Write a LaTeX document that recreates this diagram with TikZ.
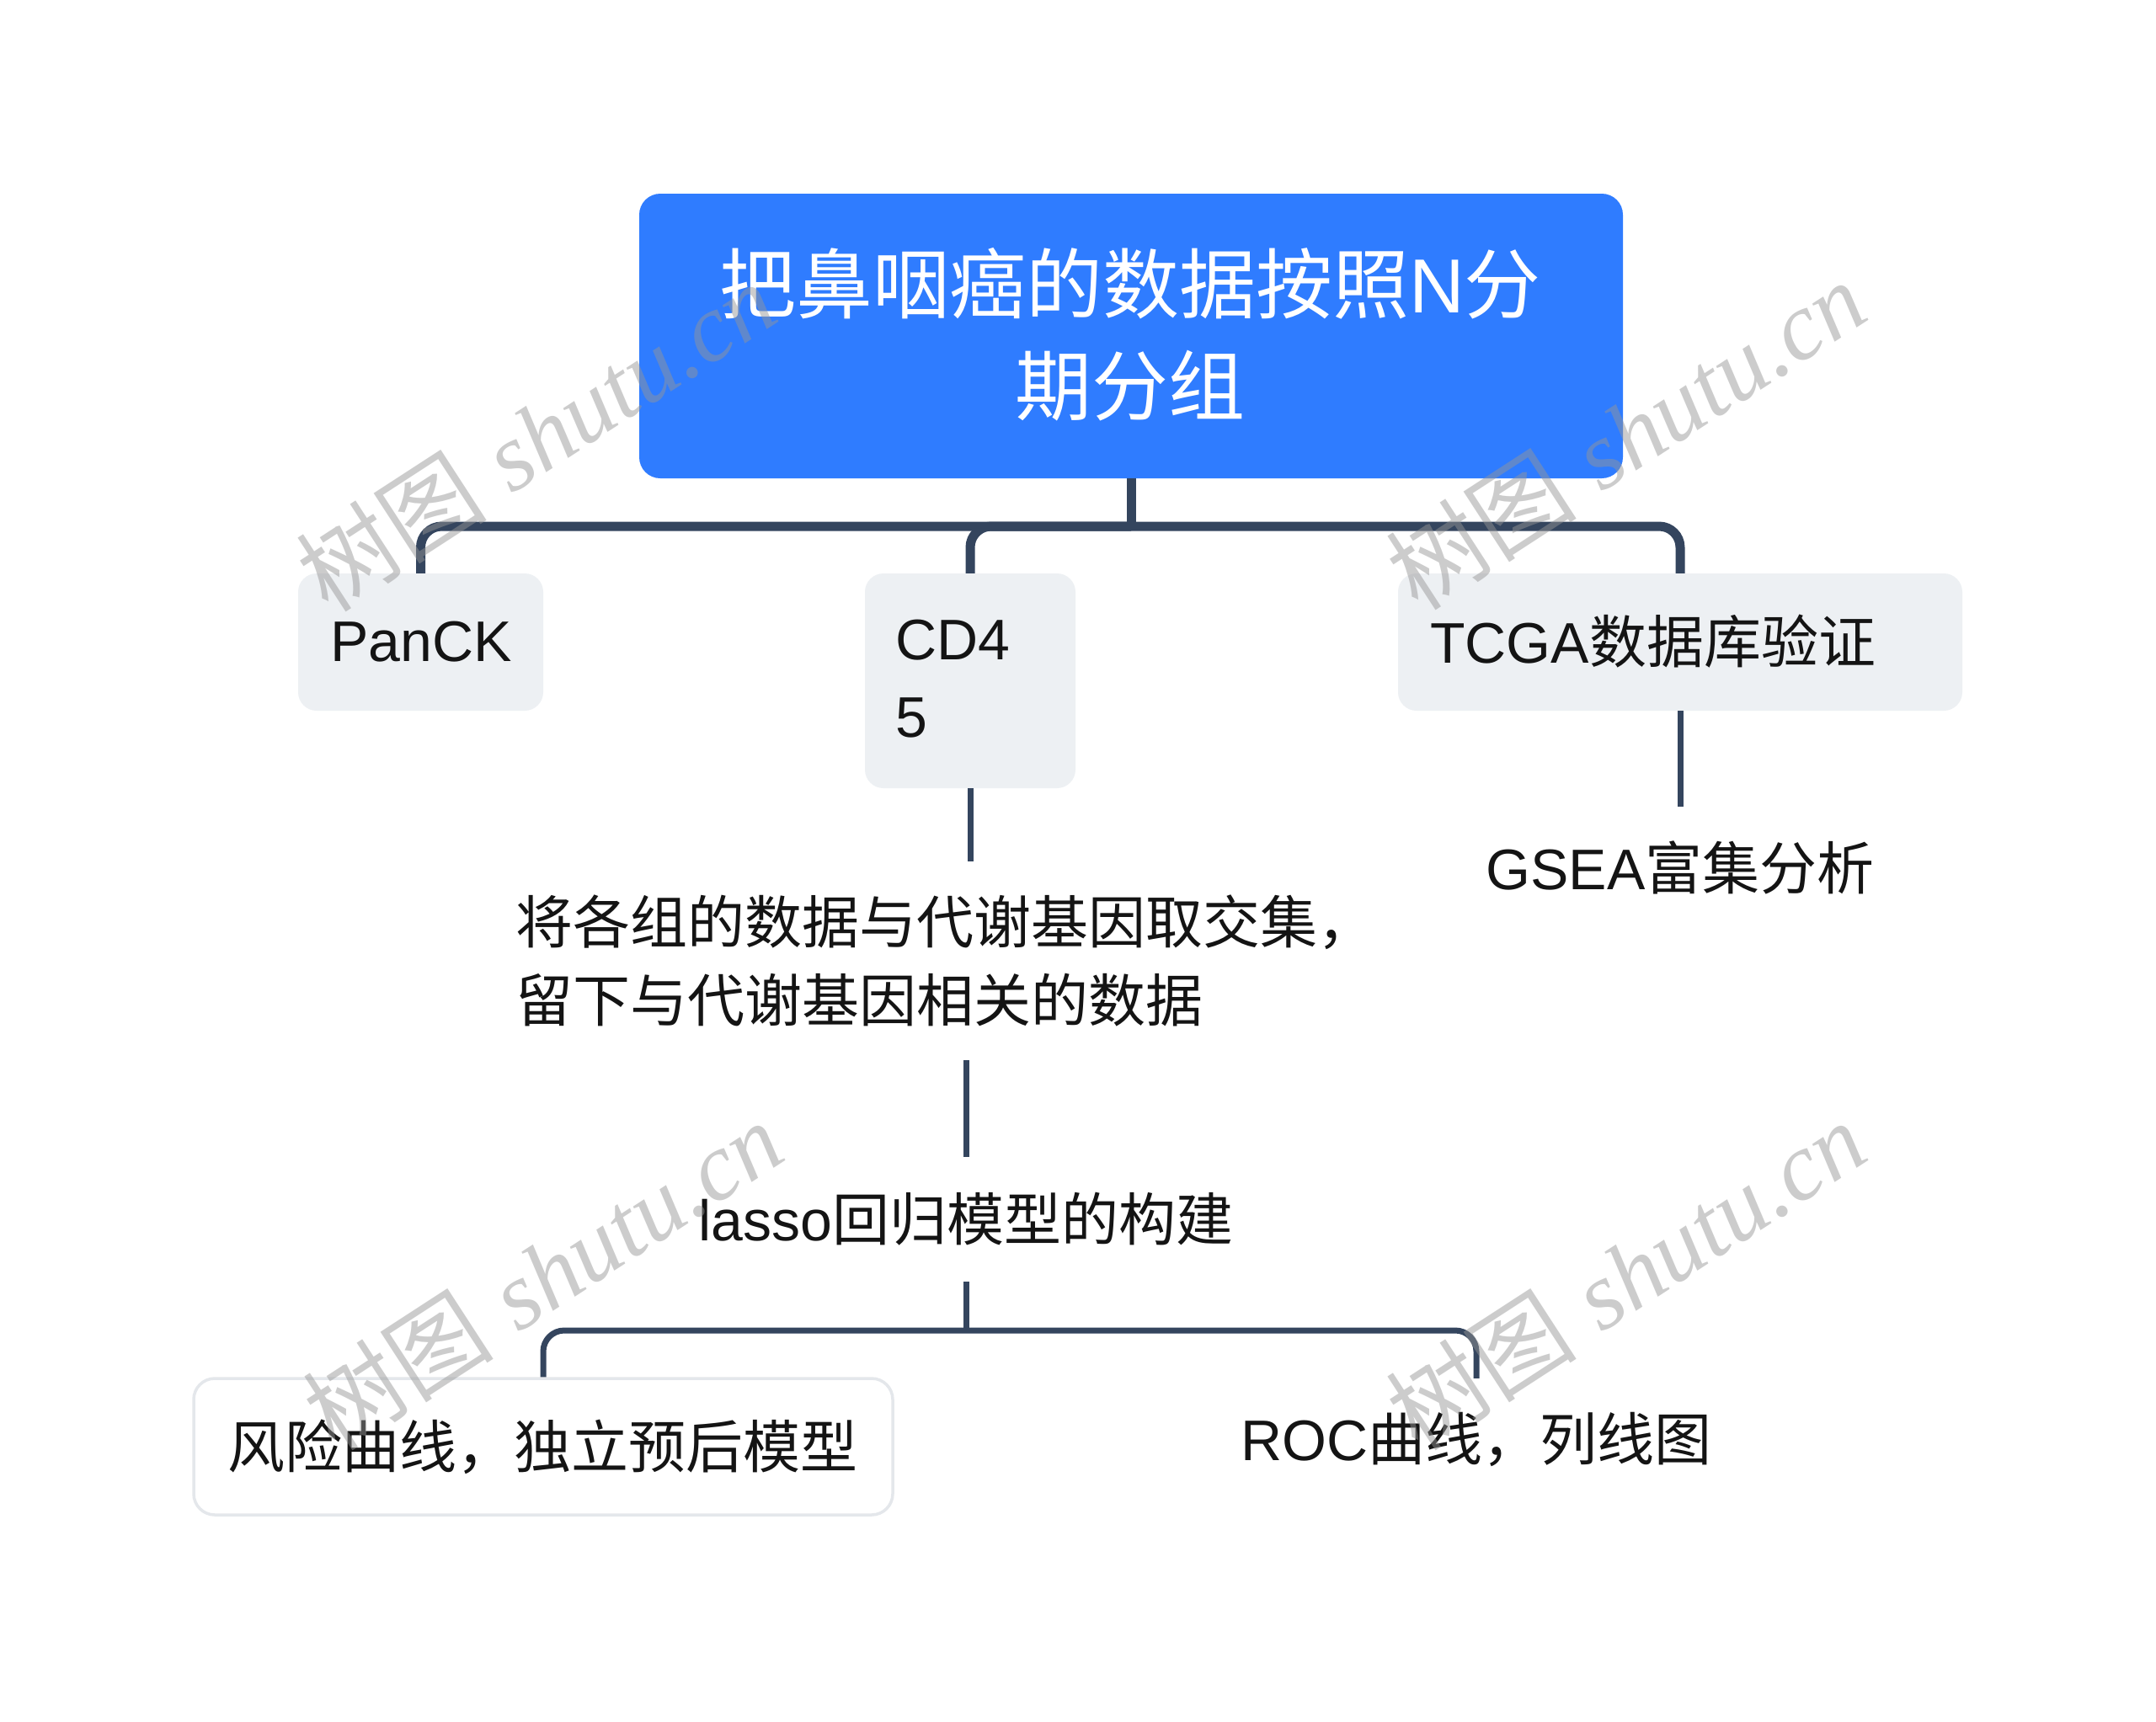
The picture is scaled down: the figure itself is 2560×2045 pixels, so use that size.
\documentclass[tikz,border=0pt]{standalone}
\usepackage{fontspec}
\setmainfont{Liberation Sans}
\newfontfamily\cjk{Noto Sans CJK SC}
\newfontfamily\wmlat{Liberation Serif}
\definecolor{rootblue}{RGB}{47,124,255}
\definecolor{boxgray}{RGB}{237,240,243}
\definecolor{linec}{RGB}{52,69,94}
\definecolor{riskborder}{RGB}{228,231,235}
\definecolor{wmgray}{RGB}{150,150,150}
\definecolor{txtc}{RGB}{20,20,20}
\begin{document}
\begin{tikzpicture}[x=1pt,y=-1pt,
  rootbox/.style={fill=rootblue, rounded corners=25pt, inner sep=0pt, minimum width=1168pt, minimum height=338pt},
  graybox/.style={fill=boxgray, rounded corners=22pt, inner sep=0pt},
  whitebox/.style={fill=white, draw=riskborder, line width=3.5pt, rounded corners=25pt, inner sep=0pt},
  txt/.style={inner sep=0pt, text=txtc, font=\fontsize{68}{93}\selectfont},
  roottxt/.style={inner sep=0pt, text=white, align=center, font=\fontsize{91}{121}\selectfont},
  conna/.style={draw=linec, line width=11pt},
  connb/.style={draw=linec, line width=7pt},
  wm/.style={inner sep=0pt, text=wmgray, text opacity=0.48, rotate=33, font=\fontsize{114}{114}\selectfont}
]
\fill[white] (0,0) rectangle (2560,2045);
\useasboundingbox (0,0) rectangle (2560,2045);

% boxes
\node[rootbox] (root) at (1343,399) {};
\node[graybox, minimum width=291pt, minimum height=163pt] (panck) at (499.5,762.5) {};
\node[graybox, minimum width=250pt, minimum height=255pt] (cd45) at (1152,808.5) {};
\node[graybox, minimum width=670pt, minimum height=163pt] (tcga) at (1995,762.5) {};
\node[whitebox, minimum width=830pt, minimum height=162pt] (risk) at (645,1718) {};

% texts
\node[roottxt] (roott) at (1342,397.5) {{\cjk 把鼻咽癌的数据按照}N{\cjk 分}\\{\cjk 期分组}};
\node[txt, anchor=west] (panckt) at (392,762) {PanCK};
\node[txt, anchor=west, align=left, font=\fontsize{68}{92}\selectfont] (cd45t) at (1063,806) {CD4\\5};
\node[txt, anchor=west] (tcgat) at (1698,762) {TCGA{\cjk 数据库验证}};
\node[txt, minimum height=144pt] (gsea) at (1995,1030) {GSEA{\cjk 富集分析}};
\node[txt, anchor=west, align=left, minimum height=236pt] (blk) at (612,1141) {{\cjk 将各组的数据与代谢基因取交集，}\\{\cjk 留下与代谢基因相关的数据}};
\node[txt, minimum height=148pt] (lasso) at (1147,1448) {lasso{\cjk 回归模型的构建}};
\node[txt, anchor=west] (riskt) at (270,1718) {{\cjk 风险曲线，独立预后模型}};
\node[txt, minimum height=144pt] (roc) at (1753,1709) {ROC{\cjk 曲线，列线图}};

% connectors
\coordinate (bar1) at (0,625);
\coordinate (bar2) at (0,1580);
\draw[conna] (root.south) -- (root.south |- bar1);
\draw[conna, rounded corners=25pt] (panck.north) |- (bar1 -| tcga.north) -- (tcga.north);
\draw[conna, rounded corners=25pt] (root.south |- bar1) -| (cd45.north);
\draw[connb] (tcga.south) -- (gsea.north);
\draw[connb] (cd45.south) -- (cd45.south |- blk.north);
\draw[connb] (lasso.north |- blk.south) -- (lasso.north);
\draw[connb] (lasso.south) -- (lasso.south |- bar2);
\draw[connb, rounded corners=25pt] (risk.north) |- (bar2 -| roc.north) -- (roc.north);

% watermarks
\node[wm] (wm1) at (636,518) {{\cjk 树图} {\wmlat\itshape shutu.cn}};
\node[wm] (wm2) at (1930,516) {{\cjk 树图} {\wmlat\itshape shutu.cn}};
\node[wm] (wm3) at (644,1514) {{\cjk 树图} {\wmlat\itshape shutu.cn}};
\node[wm] (wm4) at (1930,1514) {{\cjk 树图} {\wmlat\itshape shutu.cn}};
\end{tikzpicture}
\end{document}
